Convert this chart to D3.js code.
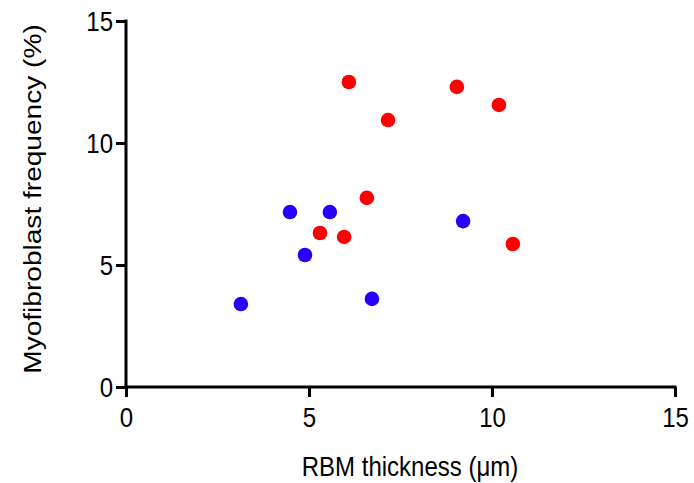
<!DOCTYPE html>
<html><head><meta charset="utf-8">
<script src="https://cdn.jsdelivr.net/npm/d3@7"></script>
<style>body{margin:0;background:#fff}svg{display:block}text{font-family:Arial,"Liberation Sans",sans-serif;fill:#000}</style>
</head><body>
<script>
const blueX = [3.14, 4.48, 4.89, 5.57, 6.72, 9.21];
const blueY = [3.40, 7.17, 5.41, 7.17, 3.61, 6.80];
const redX = [5.30, 5.96, 6.58, 6.09, 7.16, 9.04, 10.19, 10.57];
const redY = [6.31, 6.15, 7.75, 12.50, 10.94, 12.30, 11.56, 5.86];
const xTicks = [0, 5, 10, 15];
const yTicks = [0, 5, 10, 15];
const xLabel = "RBM thickness (\u03bcm)";
const yLabel = "Myofibroblast frequency (%)";

const W = 694, H = 483;
const S = 1.17; // vertical stretch of the original figure's text
const svg = d3.select("body").append("svg").attr("width", W).attr("height", H);
const x = d3.scaleLinear().domain([0, 15]).range([126, 675]);
const y = d3.scaleLinear().domain([0, 15]).range([387, 21]);

const xAxis = svg.append("g").attr("transform", `translate(0,${y(0)})`)
  .call(d3.axisBottom(x).tickValues(xTicks).tickSize(10).tickFormat(d3.format("d")));
const yAxis = svg.append("g").attr("transform", `translate(${x(0)},0)`)
  .call(d3.axisLeft(y).tickValues(yTicks).tickSize(10).tickFormat(d3.format("d")));
[xAxis, yAxis].forEach(g => {
  g.select(".domain").attr("stroke", "#000").attr("stroke-width", 3);
  g.selectAll(".tick line").attr("stroke", "#000").attr("stroke-width", 3);
  g.selectAll(".tick text").attr("font-size", 24).attr("font-family", "Arial, 'Liberation Sans', sans-serif").attr("fill", "#000");
});
xAxis.selectAll(".tick text").attr("y", 0).attr("dy", 0).attr("transform", `translate(0,40) scale(1,${S})`);
yAxis.selectAll(".tick text").attr("x", 0).attr("dy", "0.35em").attr("transform", `translate(-13,0) scale(1,${S})`);
xAxis.select(".domain").attr("d", `M${x(0)},0H${x(15)}`).attr("stroke-linecap", "square");
yAxis.select(".domain").attr("d", `M0,${y(0)}V${y(15)}`).attr("stroke-linecap", "square");

svg.append("text").attr("transform", `translate(410,476) scale(1,${S})`).attr("text-anchor", "middle")
  .attr("font-size", 24).text(xLabel);
svg.append("text").attr("transform", `translate(41,199) rotate(-90) scale(${S},1)`)
  .attr("text-anchor", "middle").attr("font-size", 24).text(yLabel);

const blue = blueX.map((d, i) => [d, blueY[i]]);
const red = redX.map((d, i) => [d, redY[i]]);
svg.append("g").selectAll("circle").data(blue).join("circle")
  .attr("cx", d => x(d[0])).attr("cy", d => y(d[1])).attr("r", 7.3).attr("fill", "#2400ff");
svg.append("g").selectAll("circle").data(red).join("circle")
  .attr("cx", d => x(d[0])).attr("cy", d => y(d[1])).attr("r", 7.3).attr("fill", "#ff0000");
</script>
</body></html>
